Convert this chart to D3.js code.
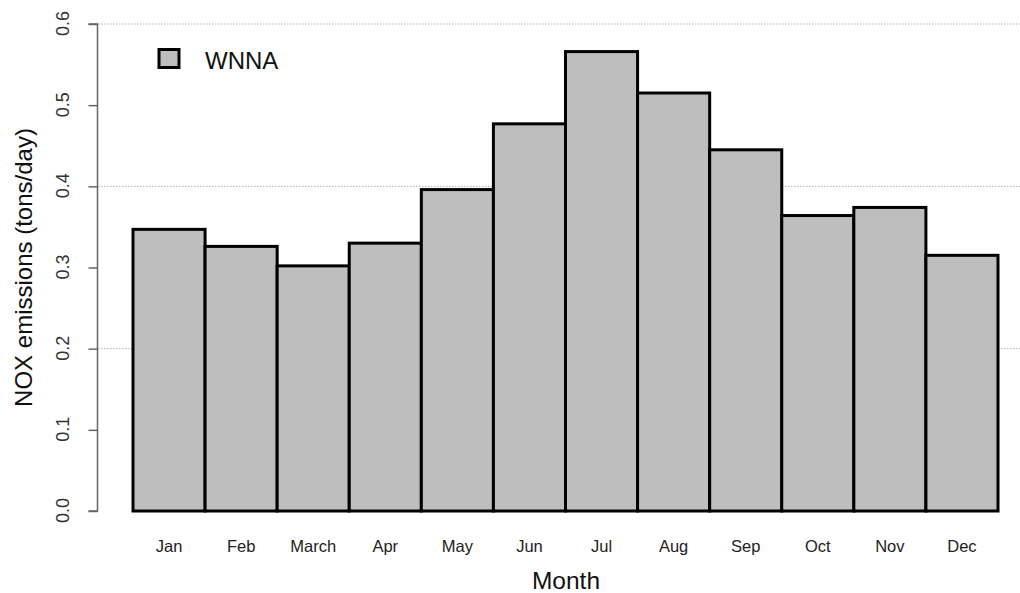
<!DOCTYPE html>
<html>
<head>
<meta charset="utf-8">
<script src="https://cdn.jsdelivr.net/npm/d3@7"></script>
<style>
  html, body { margin: 0; padding: 0; background: #fff; }
  svg { display: block; font-family: "Liberation Sans", Arial, sans-serif; }
</style>
</head>
<body>
<svg id="chart" width="1020" height="593"></svg>
<script>
// Monthly NOX emissions, WNNA
const months = ["Jan", "Feb", "March", "Apr", "May", "Jun", "Jul", "Aug", "Sep", "Oct", "Nov", "Dec"];
const emissions = [0.347, 0.326, 0.302, 0.330, 0.396, 0.477, 0.566, 0.515, 0.445, 0.364, 0.374, 0.315];
const yTicks = [0, 0.1, 0.2, 0.3, 0.4, 0.5, 0.6];
const gridTicks = [0.2, 0.4, 0.6];
const seriesName = "WNNA";

const svg = d3.select("#chart");
const W = 1020;

const x = d3.scaleBand().domain(months).range([133, 998]).paddingInner(0).paddingOuter(0);
const y = d3.scaleLinear().domain([0, 0.6]).range([511, 24]);

// dotted grid lines
svg.append("g").selectAll("line").data(gridTicks).join("line")
  .attr("x1", 98).attr("x2", W)
  .attr("y1", d => y(d)).attr("y2", d => y(d))
  .attr("stroke", "#b0b0b0").attr("stroke-width", 1)
  .attr("stroke-dasharray", "1.5,1.5");

// bars
svg.append("g").selectAll("rect").data(emissions).join("rect")
  .attr("x", (d, i) => x(months[i]))
  .attr("y", d => y(d))
  .attr("width", x.bandwidth())
  .attr("height", d => y(0) - y(d))
  .attr("fill", "#bebebe")
  .attr("stroke", "#000")
  .attr("stroke-width", 3);

// y axis
const yAxis = d3.axisLeft(y).tickValues(yTicks).tickFormat(d3.format(".1f")).tickSize(9).tickPadding(0);
const gy = svg.append("g").attr("transform", "translate(97.5,0)").call(yAxis);
gy.attr("font-size", null).attr("font-family", null);
gy.select(".domain").attr("stroke", "#666").attr("stroke-width", 1.5).attr("d", `M-9,${y(0.6)}H0V${y(0)}H-9`);
gy.selectAll(".tick line").attr("stroke", "#666").attr("stroke-width", 1.5);
gy.selectAll(".tick text")
  .style("font-size", "18px").attr("fill", "#333")
  .attr("text-anchor", "middle")
  .attr("x", 0).attr("y", 0).attr("dy", 0)
  .attr("transform", "translate(-33,-1) rotate(-90)")
  .attr("dominant-baseline", "middle");

// x axis labels (no axis line)
svg.append("g").selectAll("text").data(months).join("text")
  .attr("x", d => x(d) + x.bandwidth() / 2)
  .attr("y", 552)
  .attr("text-anchor", "middle")
  .style("font-size", "16.5px").attr("fill", "#222")
  .text(d => d);

// axis titles
svg.append("text")
  .attr("x", 566).attr("y", 589)
  .attr("text-anchor", "middle")
  .style("font-size", "24.5px").attr("fill", "#111")
  .text("Month");

svg.append("text")
  .attr("transform", `translate(32,${y(0.3)}) rotate(-90)`)
  .attr("text-anchor", "middle")
  .style("font-size", "24px").attr("fill", "#111")
  .text("NOX emissions (tons/day)");

// legend
const lg = svg.append("g");
lg.append("rect").attr("x", 159).attr("y", 49.5).attr("width", 20).attr("height", 18)
  .attr("fill", "#bebebe").attr("stroke", "#000").attr("stroke-width", 3);
lg.append("text").attr("x", 205).attr("y", 68.5)
  .style("font-size", "24px").attr("fill", "#111").text(seriesName);
</script>
</body>
</html>
